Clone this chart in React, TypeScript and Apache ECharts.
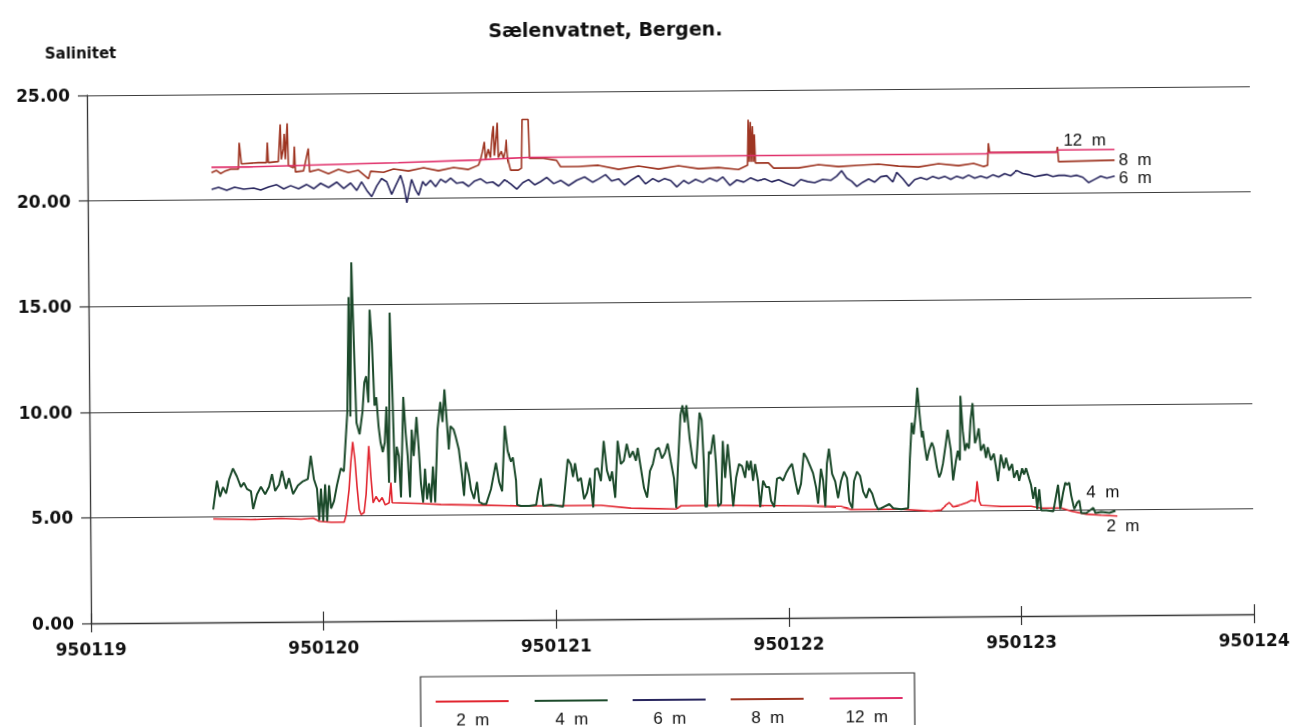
import React, { useEffect, useRef } from 'react';
import * as echarts from 'echarts';

// x = days after 950119 (00:00), y = salinity
const xTickLabels = ['950119', '950120', '950121', '950122', '950123', '950124'];

const s2m: [number, number][] = [
  [0.529, 4.9], [0.692, 4.85], [0.821, 4.9], [0.907, 4.85], [0.959, 4.9], [0.985, 4.75], [1.036, 4.7], [1.092, 4.7],
  [1.101, 5.05], [1.114, 6.25], [1.122, 7.5], [1.131, 8.5], [1.140, 7.65], [1.148, 6.4], [1.157, 5.3], [1.165, 5.05],
  [1.178, 5.15], [1.187, 6.0], [1.195, 7.5], [1.200, 8.3], [1.208, 6.85], [1.217, 5.6], [1.230, 5.9], [1.243, 5.65],
  [1.256, 5.85], [1.269, 5.5], [1.286, 5.6], [1.294, 6.55], [1.299, 5.6], [1.423, 5.55], [1.509, 5.5], [1.681, 5.45],
  [1.853, 5.4], [2.025, 5.4], [2.197, 5.4], [2.326, 5.25], [2.520, 5.2], [2.541, 5.35], [2.713, 5.35], [3.057, 5.3],
  [3.229, 5.25], [3.272, 5.1], [3.487, 5.1], [3.616, 5.0], [3.659, 5.05], [3.681, 5.3], [3.694, 5.4], [3.711, 5.2],
  [3.745, 5.3], [3.771, 5.4], [3.788, 5.5], [3.806, 5.45], [3.814, 6.4], [3.823, 5.45], [3.831, 5.25], [3.917, 5.2],
  [4.046, 5.2], [4.089, 5.1], [4.175, 5.1], [4.218, 4.95], [4.283, 4.8], [4.347, 4.75], [4.416, 4.7],
];

const s4m: [number, number][] = [
  [0.529, 5.34], [0.546, 6.7], [0.559, 5.95], [0.572, 6.4], [0.585, 6.1], [0.598, 6.75], [0.615, 7.28], [0.632, 6.9],
  [0.649, 6.4], [0.662, 6.6], [0.675, 6.3], [0.692, 6.2], [0.701, 5.35], [0.718, 6.05], [0.735, 6.4], [0.753, 6.05],
  [0.770, 6.4], [0.783, 7.0], [0.796, 6.2], [0.813, 6.5], [0.826, 7.15], [0.843, 6.3], [0.856, 6.8], [0.873, 6.05],
  [0.894, 6.45], [0.916, 6.65], [0.937, 6.75], [0.950, 7.85], [0.963, 6.75], [0.976, 6.3], [0.985, 4.8], [0.993, 6.3],
  [1.002, 4.75], [1.011, 6.5], [1.019, 4.75], [1.028, 6.45], [1.036, 5.35], [1.049, 5.7], [1.062, 6.45], [1.079, 7.25],
  [1.092, 7.1], [1.101, 8.6], [1.109, 9.9], [1.118, 15.35], [1.122, 9.7], [1.131, 17.0], [1.140, 12.85], [1.148, 9.4],
  [1.161, 8.85], [1.174, 9.9], [1.183, 11.3], [1.191, 11.6], [1.200, 10.35], [1.208, 14.75], [1.217, 13.2], [1.226, 10.2],
  [1.234, 10.6], [1.243, 9.2], [1.251, 8.45], [1.260, 8.0], [1.269, 8.45], [1.277, 10.15], [1.286, 6.55], [1.294, 14.6],
  [1.303, 10.95], [1.312, 6.55], [1.320, 8.25], [1.329, 7.8], [1.337, 5.85], [1.350, 10.6], [1.359, 8.9], [1.367, 7.8],
  [1.376, 5.85], [1.385, 9.05], [1.393, 7.8], [1.406, 9.65], [1.415, 8.1], [1.423, 6.5], [1.432, 5.6], [1.441, 7.2],
  [1.449, 5.75], [1.458, 6.5], [1.466, 5.6], [1.475, 7.3], [1.484, 5.6], [1.496, 9.05], [1.509, 10.35], [1.518, 9.4],
  [1.527, 10.95], [1.535, 9.65], [1.544, 8.1], [1.552, 9.2], [1.565, 9.05], [1.574, 8.7], [1.587, 8.1], [1.600, 6.85],
  [1.608, 5.9], [1.617, 7.5], [1.630, 6.85], [1.638, 6.2], [1.651, 5.75], [1.664, 6.55], [1.673, 5.6], [1.690, 5.5],
  [1.703, 5.5], [1.724, 6.2], [1.746, 7.45], [1.759, 6.55], [1.772, 6.1], [1.785, 9.2], [1.797, 8.0], [1.810, 7.5],
  [1.819, 7.7], [1.832, 6.6], [1.836, 5.45], [1.853, 5.4], [1.888, 5.4], [1.918, 5.45], [1.926, 6.0], [1.939, 6.7],
  [1.948, 5.4], [1.982, 5.45], [2.034, 5.35], [2.047, 6.75], [2.055, 7.6], [2.068, 7.35], [2.077, 6.75], [2.086, 7.4],
  [2.098, 6.55], [2.111, 6.7], [2.124, 5.7], [2.137, 6.0], [2.150, 6.7], [2.163, 5.3], [2.172, 7.1], [2.184, 7.15],
  [2.197, 6.55], [2.210, 8.45], [2.223, 7.05], [2.236, 6.55], [2.245, 7.0], [2.258, 5.75], [2.270, 8.45], [2.283, 7.35],
  [2.296, 7.5], [2.309, 8.3], [2.322, 7.65], [2.335, 7.95], [2.348, 7.5], [2.356, 8.1], [2.369, 7.15], [2.382, 6.2],
  [2.395, 5.75], [2.408, 7.0], [2.421, 7.35], [2.434, 8.0], [2.447, 8.1], [2.460, 7.6], [2.473, 7.85], [2.485, 8.3],
  [2.498, 7.45], [2.511, 6.65], [2.520, 5.25], [2.528, 7.1], [2.541, 9.65], [2.550, 10.1], [2.559, 9.3], [2.567, 10.1],
  [2.580, 8.5], [2.593, 7.4], [2.606, 7.1], [2.614, 8.35], [2.623, 9.75], [2.632, 9.4], [2.640, 7.35], [2.645, 5.3],
  [2.653, 5.3], [2.662, 7.9], [2.670, 7.8], [2.679, 8.5], [2.683, 8.7], [2.692, 7.35], [2.700, 5.3], [2.713, 5.45],
  [2.722, 8.4], [2.731, 6.65], [2.743, 8.25], [2.752, 7.1], [2.765, 5.3], [2.778, 6.65], [2.791, 7.3], [2.804, 7.2],
  [2.817, 6.65], [2.825, 7.45], [2.834, 7.0], [2.842, 7.45], [2.851, 6.5], [2.860, 7.3], [2.872, 6.5], [2.881, 5.25],
  [2.894, 6.5], [2.907, 6.2], [2.920, 6.2], [2.928, 5.55], [2.941, 5.25], [2.954, 6.6], [2.967, 6.65], [2.980, 6.5],
  [2.993, 6.85], [3.006, 7.1], [3.019, 7.3], [3.032, 6.5], [3.044, 5.85], [3.057, 6.35], [3.070, 7.8], [3.083, 7.55],
  [3.096, 7.2], [3.109, 6.85], [3.122, 6.15], [3.130, 5.4], [3.143, 7.05], [3.152, 6.5], [3.161, 5.25], [3.169, 7.3],
  [3.178, 8.0], [3.191, 6.8], [3.204, 6.45], [3.216, 5.65], [3.229, 6.45], [3.242, 6.9], [3.255, 6.6], [3.264, 5.5],
  [3.277, 5.15], [3.285, 6.45], [3.298, 6.9], [3.311, 6.7], [3.324, 5.95], [3.337, 5.65], [3.350, 6.1], [3.363, 5.85],
  [3.376, 5.35], [3.388, 5.1], [3.401, 5.15], [3.436, 5.35], [3.453, 5.15], [3.487, 5.1], [3.517, 5.15], [3.526, 7.5],
  [3.535, 9.2], [3.543, 8.65], [3.552, 9.6], [3.560, 10.85], [3.569, 9.6], [3.578, 8.5], [3.582, 8.8], [3.591, 8.0],
  [3.599, 7.4], [3.608, 7.85], [3.621, 8.25], [3.629, 8.0], [3.642, 7.05], [3.651, 6.6], [3.659, 6.8], [3.668, 7.25],
  [3.681, 8.2], [3.689, 8.85], [3.702, 7.9], [3.711, 6.45], [3.724, 7.4], [3.732, 7.85], [3.741, 7.4], [3.745, 10.45],
  [3.754, 8.8], [3.763, 7.85], [3.771, 8.2], [3.780, 7.95], [3.788, 9.3], [3.797, 10.1], [3.806, 8.2], [3.814, 8.45],
  [3.823, 8.9], [3.831, 7.85], [3.844, 8.15], [3.853, 7.5], [3.861, 8.0], [3.874, 7.4], [3.887, 7.7], [3.896, 7.05],
  [3.904, 6.4], [3.917, 7.65], [3.930, 7.0], [3.939, 7.5], [3.952, 6.9], [3.965, 7.2], [3.973, 6.55], [3.986, 6.9],
  [3.995, 6.4], [4.008, 7.0], [4.016, 6.7], [4.025, 7.0], [4.038, 6.5], [4.046, 6.2], [4.055, 5.55], [4.064, 6.1],
  [4.072, 5.05], [4.081, 6.0], [4.089, 5.0], [4.111, 5.0], [4.141, 4.95], [4.162, 6.2], [4.171, 5.05], [4.184, 5.85],
  [4.193, 6.3], [4.201, 6.2], [4.210, 6.3], [4.218, 5.7], [4.231, 5.05], [4.244, 5.35], [4.253, 5.45], [4.261, 4.85],
  [4.283, 4.85], [4.313, 5.1], [4.322, 4.85], [4.347, 4.9], [4.382, 4.85], [4.408, 4.95],
];

const s6m: [number, number][] = [
  [0.533, 20.5], [0.563, 20.6], [0.598, 20.45], [0.632, 20.6], [0.671, 20.5], [0.714, 20.55], [0.744, 20.45], [0.778, 20.6],
  [0.813, 20.7], [0.843, 20.5], [0.873, 20.65], [0.907, 20.5], [0.942, 20.7], [0.972, 20.5], [1.002, 20.75], [1.036, 20.55],
  [1.071, 20.8], [1.101, 20.5], [1.131, 20.75], [1.157, 20.4], [1.178, 20.8], [1.200, 20.4], [1.221, 20.1], [1.243, 20.6],
  [1.264, 20.95], [1.286, 20.8], [1.307, 20.2], [1.324, 20.6], [1.346, 21.1], [1.359, 20.6], [1.372, 19.8], [1.393, 20.9],
  [1.410, 20.4], [1.423, 20.15], [1.441, 20.8], [1.453, 20.6], [1.475, 20.85], [1.496, 20.55], [1.518, 20.9], [1.539, 20.75],
  [1.561, 20.95], [1.587, 20.7], [1.613, 20.75], [1.638, 20.55], [1.664, 20.8], [1.690, 20.9], [1.716, 20.7], [1.742, 20.75],
  [1.767, 20.55], [1.793, 20.85], [1.819, 20.65], [1.845, 20.4], [1.871, 20.7], [1.896, 20.85], [1.922, 20.6], [1.948, 20.75],
  [1.974, 20.95], [2.004, 20.65], [2.034, 20.8], [2.068, 20.55], [2.103, 20.8], [2.137, 20.95], [2.172, 20.7], [2.197, 20.85],
  [2.227, 21.05], [2.253, 20.75], [2.283, 20.85], [2.309, 20.55], [2.339, 20.8], [2.369, 21.0], [2.399, 20.6], [2.430, 20.85],
  [2.455, 20.7], [2.481, 20.85], [2.507, 20.75], [2.533, 20.45], [2.563, 20.75], [2.584, 20.6], [2.614, 20.8], [2.645, 20.65],
  [2.675, 20.85], [2.705, 20.7], [2.731, 20.9], [2.761, 20.5], [2.791, 20.75], [2.821, 20.65], [2.851, 20.85], [2.881, 20.7],
  [2.911, 20.8], [2.941, 20.65], [2.971, 20.75], [3.001, 20.6], [3.036, 20.45], [3.066, 20.75], [3.096, 20.65], [3.126, 20.6],
  [3.161, 20.75], [3.195, 20.7], [3.221, 20.9], [3.242, 21.15], [3.264, 20.8], [3.285, 20.65], [3.307, 20.4], [3.333, 20.6],
  [3.358, 20.75], [3.384, 20.6], [3.410, 20.85], [3.436, 20.9], [3.462, 20.6], [3.479, 21.05], [3.505, 20.75], [3.530, 20.4],
  [3.556, 20.7], [3.582, 20.8], [3.608, 20.7], [3.634, 20.85], [3.659, 20.75], [3.685, 20.85], [3.711, 20.7], [3.737, 20.85],
  [3.763, 20.75], [3.788, 20.9], [3.814, 20.75], [3.840, 20.85], [3.866, 20.75], [3.892, 20.9], [3.917, 20.8], [3.943, 20.95],
  [3.969, 20.85], [3.995, 21.1], [4.021, 20.95], [4.046, 20.9], [4.072, 20.8], [4.098, 20.85], [4.124, 20.9], [4.150, 20.8],
  [4.175, 20.85], [4.201, 20.85], [4.227, 20.8], [4.253, 20.85], [4.279, 20.75], [4.304, 20.5], [4.330, 20.65], [4.356, 20.8],
  [4.382, 20.7], [4.416, 20.8],
];

const s8m: [number, number][] = [
  [0.533, 21.3], [0.555, 21.4], [0.572, 21.25], [0.589, 21.35], [0.615, 21.45], [0.649, 21.45], [0.653, 22.7], [0.662, 21.7],
  [0.735, 21.75], [0.770, 21.75], [0.774, 22.7], [0.778, 21.75], [0.821, 21.8], [0.830, 23.55], [0.834, 21.9], [0.843, 22.4],
  [0.847, 23.1], [0.851, 21.9], [0.860, 23.6], [0.864, 21.6], [0.886, 21.5], [0.890, 22.5], [0.894, 21.3], [0.929, 21.35],
  [0.950, 22.4], [0.955, 21.3], [0.993, 21.4], [1.036, 21.2], [1.079, 21.4], [1.122, 21.25], [1.165, 21.35], [1.208, 20.95],
  [1.217, 21.3], [1.273, 21.25], [1.316, 21.4], [1.380, 21.3], [1.445, 21.45], [1.509, 21.3], [1.574, 21.45], [1.638, 21.35],
  [1.681, 21.55], [1.690, 21.8], [1.699, 22.2], [1.707, 22.65], [1.712, 21.8], [1.724, 22.3], [1.733, 21.9], [1.741, 23.0],
  [1.746, 23.4], [1.750, 22.0], [1.759, 23.0], [1.763, 23.55], [1.767, 21.9], [1.780, 22.2], [1.789, 21.85], [1.797, 22.2],
  [1.802, 22.75], [1.806, 21.9], [1.819, 21.3], [1.853, 21.3], [1.866, 21.4], [1.870, 23.7], [1.896, 23.7], [1.901, 21.85],
  [1.961, 21.85], [2.017, 21.75], [2.034, 21.45], [2.111, 21.45], [2.197, 21.5], [2.283, 21.3], [2.369, 21.45], [2.455, 21.3],
  [2.541, 21.45], [2.627, 21.3], [2.713, 21.35], [2.799, 21.25], [2.838, 21.45], [2.842, 23.6], [2.846, 21.6], [2.851, 23.5],
  [2.855, 21.6], [2.860, 23.3], [2.864, 21.6], [2.868, 22.9], [2.872, 21.55], [2.928, 21.55], [2.950, 21.3], [3.057, 21.3],
  [3.143, 21.45], [3.229, 21.35], [3.315, 21.4], [3.401, 21.45], [3.487, 21.35], [3.573, 21.3], [3.659, 21.45], [3.745, 21.35],
  [3.810, 21.45], [3.853, 21.3], [3.870, 21.35], [3.874, 22.4], [3.879, 21.95], [4.167, 21.95], [4.171, 22.2], [4.175, 21.5],
  [4.416, 21.55],
];

const s12m: [number, number][] = [
  [0.533, 21.55], [0.692, 21.55], [0.907, 21.6], [1.122, 21.65], [1.337, 21.7], [1.681, 21.8], [1.896, 21.9], [2.197, 21.9],
  [2.627, 21.9], [3.057, 21.9], [3.487, 21.9], [3.866, 21.9], [3.874, 21.95], [4.167, 21.95], [4.175, 22.05], [4.416, 22.05],
];

const seriesNames = ['2 m', '4 m', '6 m', '8 m', '12 m'];
const seriesData = [s2m, s4m, s6m, s8m, s12m];
const endLabelTexts = ['2  m', '4  m', '6  m', '8  m', '12  m'];

const seriesColors = ['#e12630', '#1c4a2b', '#28265e', '#9e3522', '#e02f6a'];
const seriesWidths = [1.6, 2, 1.6, 1.6, 1.6];
const endLabelOffsets: [number, number][] = [[-11, 10], [-29, -19], [4, 2], [4, 0], [-51, -10]];

const FONT = '"Liberation Sans", Arial, sans-serif';
const WIDE = '"DejaVu Sans", Verdana, sans-serif';

export default function App() {
  const ref = useRef<HTMLDivElement>(null);

  useEffect(() => {
    if (!ref.current) return;
    const chart = echarts.init(ref.current, undefined, { renderer: 'svg' });

    const legendX = [433, 532, 630, 728, 827];
    const legendChildren: any[] = [
      { type: 'rect', shape: { x: 418, y: 675, width: 494, height: 70 }, style: { fill: '#fff', stroke: '#333', lineWidth: 1.2 } },
    ];
    seriesNames.forEach((n, i) => {
      legendChildren.push({
        type: 'line',
        shape: { x1: legendX[i], y1: 700, x2: legendX[i] + 73, y2: 700 },
        style: { stroke: seriesColors[i], lineWidth: 2 },
      });
      legendChildren.push({
        type: 'text',
        x: legendX[i] + 37,
        y: 718,
        style: { text: n.replace(' ', '  '), fill: '#111', font: `17px ${FONT}`, align: 'center', verticalAlign: 'middle' },
      });
    });

    const option: any = {
      animation: false,
      backgroundColor: '#ffffff',
      title: {
        text: 'Sælenvatnet, Bergen.',
        left: 486,
        top: 14,
        textStyle: { fontFamily: WIDE, fontSize: 19, fontWeight: 'bold', color: '#111' },
      },
      grid: { left: 89, right: 40, top: 91, bottom: 108, containLabel: false },
      xAxis: [
        {
          type: 'value',
          min: 0,
          max: 5,
          interval: 1,
          axisLine: { show: true, onZero: false, lineStyle: { color: '#333', width: 1.3 } },
          axisTick: { show: true, length: 9, lineStyle: { color: '#333', width: 1.2 } },
          axisLabel: {
            margin: 17,
            formatter: (v: number) => xTickLabels[Math.round(v)],
            fontFamily: WIDE,
            fontSize: 17,
            fontWeight: 'bold',
            color: '#111',
          },
          splitLine: { show: false },
        },
        {
          type: 'value',
          min: 0,
          max: 5,
          interval: 1,
          position: 'bottom',
          axisLine: { show: false },
          axisTick: { show: true, inside: true, length: 10, lineStyle: { color: '#333', width: 1.2 } },
          axisLabel: { show: false },
          splitLine: { show: false },
        },
      ],
      yAxis: {
        type: 'value',
        min: 0,
        max: 25,
        interval: 5,
        name: 'Salinitet',
        nameLocation: 'end',
        nameGap: 35,
        nameTextStyle: { fontFamily: WIDE, fontSize: 15, fontWeight: 'bold', color: '#111', align: 'center', padding: [0, 12, 0, 0] },
        axisLine: { show: true, lineStyle: { color: '#333', width: 1.3 } },
        axisTick: { show: true, length: 9, lineStyle: { color: '#333', width: 1.2 } },
        axisLabel: {
          margin: 17,
          formatter: (v: number) => v.toFixed(2),
          fontFamily: WIDE,
          fontSize: 17,
          fontWeight: 'bold',
          color: '#111',
        },
        splitLine: { show: true, lineStyle: { color: '#3c3c3c', width: 1.2 } },
      },
      series: seriesNames.map((n, i) => ({
        name: n,
        type: 'line',
        xAxisIndex: 0,
        data: seriesData[i],
        showSymbol: false,
        symbol: 'none',
        lineStyle: { color: seriesColors[i], width: seriesWidths[i] },
        itemStyle: { color: seriesColors[i] },
        z: 2 + i,
        endLabel: {
          show: true,
          formatter: endLabelTexts[i],
          distance: 0,
          offset: endLabelOffsets[i],
          fontFamily: FONT,
          fontSize: 17,
          color: '#111',
        },
      })),
      graphic: [{ type: 'group', children: legendChildren }],
    };

    chart.setOption(option);
    return () => chart.dispose();
  }, []);

  return (
    <div
      ref={ref}
      style={{
        position: 'fixed',
        left: 0,
        top: 0,
        width: 1292,
        height: 727,
        background: '#fff',
        transform: 'rotate(-0.45deg)',
      }}
    />
  );
}
